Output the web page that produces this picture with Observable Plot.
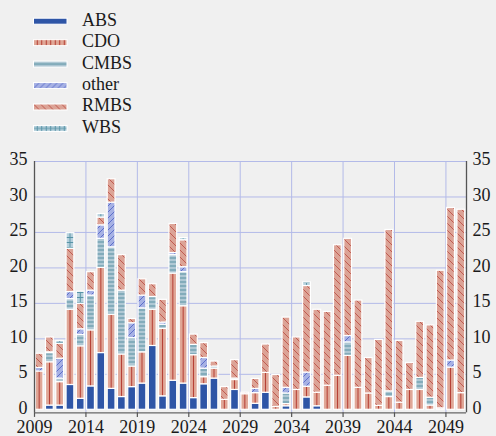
<!DOCTYPE html>
<html><head><meta charset="utf-8">
<script src="https://cdn.jsdelivr.net/npm/d3@7"></script>
<script src="https://cdn.jsdelivr.net/npm/@observablehq/plot@0.6"></script>
<style>
html,body{margin:0;padding:0;background:#f0f0f0;}
#legend{display:block}
#chart svg{display:block;overflow:visible}
svg text{font-family:"Liberation Serif","Times New Roman",serif !important;}
</style></head><body>
<svg id="legend" width="496" height="140"></svg>
<div id="chart"></div>
<script>
const years = [2009,2010,2011,2012,2013,2014,2015,2016,2017,2018,2019,2020,2021,2022,2023,2024,2025,2026,2027,2028,2029,
               2030,2031,2032,2033,2034,2035,2036,2037,2038,2039,2040,2041,2042,2043,2044,2045,2046,2047,2048,2049,2050];
const cats = ["ABS","CDO","CMBS","other","RMBS","WBS"];
const absVals   = [0,0.6,0.6,3.5,1.55,3.3,8.0,2.95,1.8,3.2,3.7,9.0,1.9,4.1,3.7,1.65,3.6,4.4,0,2.8,0,
                   0.85,2.4,0,0.5,0,1.75,0.5,0,0,0,0,0,0,0,0,0,0,0,0,0,0];
const cdoVals   = [5.4,6.1,3.3,10.6,7.4,7.9,12.0,10.45,6.0,2.9,4.4,5.1,9.5,15.1,10.9,6.05,1.0,1.4,1.4,1.4,2.2,
                   1.5,2.8,0.4,0.3,2.8,1.5,1.9,3.4,4.8,7.6,3.1,2.3,0.55,1.8,1.0,2.8,2.8,0.6,0.2,5.95,2.35];
const cmbsVals  = [0,1.3,0.5,1.5,1.6,4.9,4.1,9.5,9.0,4.0,6.2,1.8,0.6,2.6,4.8,1.45,1.2,0.3,0,0.2,0,
                   0,0,0,1.5,0,0,0,0,0,1.9,0,0,0,0.8,0,0,1.7,1.1,0,0,0];
const otherVals = [0.5,0.1,2.8,1.0,0.8,0.7,1.9,6.3,0,2.1,1.8,0,0.3,0.3,0.7,0,1.5,0,0,0,0,
                   0.6,0,0,0.8,0,2.0,0,0,0,0.9,0,0,0,0,0,0,0,0,0,1.0,0];
const rmbsVals  = [2.0,2.1,2.1,6.1,3.6,2.6,1.1,3.3,5.0,0.6,2.3,1.8,3.2,4.1,3.8,1.45,2.1,0.7,1.8,2.6,0.2,
                   1.4,4.0,4.5,9.9,7.4,12.2,11.7,10.4,18.4,13.7,12.3,5.0,9.3,22.75,8.7,3.8,7.9,10.2,19.4,21.5,25.85];
const wbsVals   = [0,0,0.4,2.2,1.7,0,0.5,0,0,0,0,0,0,0,0.3,0,0,0,0,0,0,
                   0,0,0,0,0,0.5,0,0,0,0,0,0,0,0,0,0,0,0,0,0,0];
const yTicks = [0,5,10,15,20,25,30,35];
const xTicks = [2009,2014,2019,2024,2029,2034,2039,2044,2049];

const series = [absVals, cdoVals, cmbsVals, otherVals, rmbsVals, wbsVals];
const data = [];
cats.forEach((c, j) => series[j].forEach((v, i) => { if (v > 0) data.push({year: years[i], cat: c, value: v}); }));

// ---- patterns ----
const legend = d3.select("#legend");
const defs = legend.append("defs");
const col = {
  ABS: "#2e55a6",
  CDObg: "#e0a797", CDOln: "#b3392e",
  CMBSbg: "#afc8d4", CMBSln: "#5790a2",
  otherbg: "#a6b1e4", otherln: "#4a5ec4",
  RMBSbg: "#dca396", RMBSln: "#b9493d",
  WBSbg: "#b7d1dd", WBSln: "#5793a6"
};
function pattern(id, w, h, x, bg, paths, stroke, sw) {
  const p = defs.append("pattern").attr("id", id).attr("patternUnits", "userSpaceOnUse")
    .attr("x", x).attr("y", 0).attr("width", w).attr("height", h);
  p.append("rect").attr("width", w).attr("height", h).attr("fill", bg);
  p.append("path").attr("d", paths).attr("stroke", stroke).attr("stroke-width", sw).attr("fill", "none");
}
const bw = 432 / 42;
// bar patterns (user space of chart svg)
pattern("p-CDO", bw, 10, 34, col.CDObg, `M${bw/2},0V10`, col.CDOln, 1);
pattern("p-CMBS", 10, 4, 0, col.CMBSbg, "M0,2H10", col.CMBSln, 1);
pattern("p-other", 6, 6, 0, col.otherbg, "M0,6L6,0M-1,1L1,-1M5,7L7,5", col.otherln, 0.8);
pattern("p-RMBS", 7, 7, 0, col.RMBSbg, "M0,0L7,7M-1,6L1,8M6,-1L8,1", col.RMBSln, 0.8);
pattern("p-WBS", bw, 5, 34, col.WBSbg, `M${bw/2},0V5M0,2.5H${bw}`, col.WBSln, 1);
// legend patterns (user space of swatch group)
pattern("l-CDO", 4.5, 6, 1.5, col.CDObg, "M2.25,0V6", col.CDOln, 1);
pattern("l-CMBS", 10, 6, 0, col.CMBSbg, "M0,3H10", col.CMBSln, 1);
pattern("l-other", 6, 6, 0, col.otherbg, "M0,6L6,0M-1,1L1,-1M5,7L7,5", col.otherln, 0.8);
pattern("l-RMBS", 7, 7, 0, col.RMBSbg, "M0,0L7,7M-1,6L1,8M6,-1L8,1", col.RMBSln, 0.8);
pattern("l-WBS", 4.5, 6, 1.5, col.WBSbg, "M2.25,0V6M0,3H4.5", col.WBSln, 1);

const barFill = {ABS: col.ABS, CDO: "url(#p-CDO)", CMBS: "url(#p-CMBS)", other: "url(#p-other)", RMBS: "url(#p-RMBS)", WBS: "url(#p-WBS)"};
const legFill = {ABS: col.ABS, CDO: "url(#l-CDO)", CMBS: "url(#l-CMBS)", other: "url(#l-other)", RMBS: "url(#l-RMBS)", WBS: "url(#l-WBS)"};

// ---- legend ----
cats.forEach((c, i) => {
  const cy = 21.2 + i * 21.45;
  const g = legend.append("g").attr("transform", `translate(33.5,${cy - 3})`);
  g.append("rect").attr("width", 33.5).attr("height", 6).attr("fill", legFill[c]).attr("stroke", "white").attr("stroke-width", 1);
  legend.append("text").attr("x", 82).attr("y", cy + 4.4).text(c)
    .attr("font-size", 18).attr("fill", "#1a1a1a");
});

// ---- chart ----
const grid = "#b3bae8";
const ink = "#1a1a1a";
const plot = Plot.plot({
  width: 496, height: 296,
  marginLeft: 34, marginRight: 30, marginTop: 21, marginBottom: 23.7,
  style: {background: "transparent", fontFamily: "Liberation Serif", fontSize: "18px", color: ink, overflow: "visible"},
  x: {domain: [2009, 2051], axis: null},
  y: {domain: [0, 35], range: [269.3, 21], axis: null},
  color: {type: "identity"},
  marks: [
    Plot.ruleY(yTicks.filter(d => d > 0), {y: d => d, stroke: grid, strokeWidth: 1}),
    Plot.ruleX(xTicks.slice(1), {x: d => d, stroke: grid, strokeWidth: 1}),
    Plot.rectY(data, {x1: "year", x2: d => d.year + 1, y: "value", z: "cat",
      fill: d => barFill[d.cat], stroke: "white", strokeWidth: 1.2, insetLeft: 1.2, insetRight: 1.3}),
    Plot.ruleX([2009, 2051], {x: d => d, stroke: "#555", strokeWidth: 1.3}),
    Plot.ruleY([0], {y: d => d, dy: 3, stroke: "#666", strokeWidth: 1.2}),
    Plot.ruleX(xTicks, {x: d => d, y1: 0, y2: -0.65, dy: 3, stroke: "#555", strokeWidth: 1.2}),
    Plot.text(yTicks, {x: 2009, y: d => d, text: d => String(d), dx: -7, dy: -1.8, textAnchor: "end", fill: ink, fontSize: 18}),
    Plot.text(yTicks, {x: 2051, y: d => d, text: d => String(d), dx: 6, dy: -1.8, textAnchor: "start", fill: ink, fontSize: 18}),
    Plot.text(xTicks, {x: d => d, y: 0, text: d => String(d), dy: 17.6, textAnchor: "middle", fill: ink, fontSize: 18})
  ]
});
document.getElementById("chart").appendChild(plot);
</script>
</body></html>
